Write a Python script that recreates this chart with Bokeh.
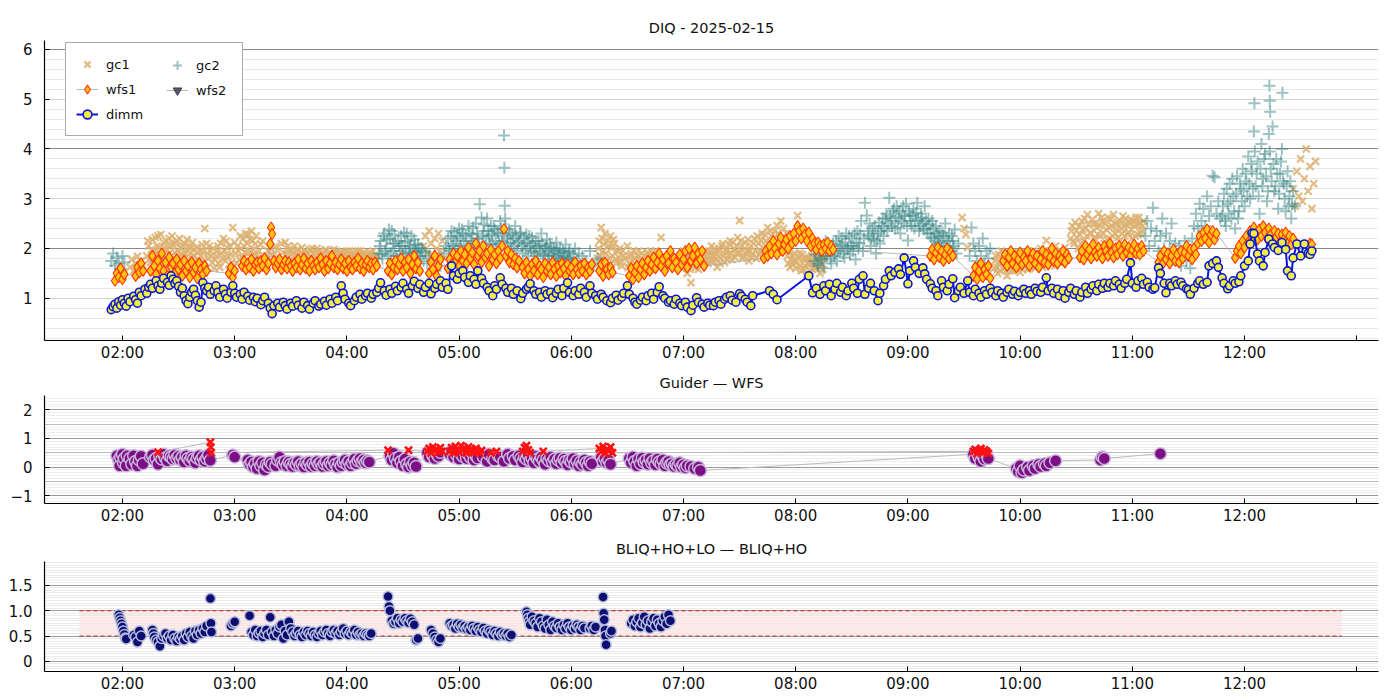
from bokeh.plotting import figure
from bokeh.models import FixedTicker, Grid, Legend, LegendItem, Range1d
from bokeh.layouts import column
from bokeh.embed import file_html
from bokeh.resources import INLINE

# ---------------- data (time in minutes after 00:00, value) ----------------
dimm = [(114,.77),(115,.83),(116,.88),(117,.80),(118,.93),(119,.86),(120,.97),(121,.90),(122,.84),(123,1.00),(124,.93),(126,1.04),(127,.97),(128,.90),(129,1.12),(130,1.05),(132,1.18),(133,1.10),(134,1.22),(135,1.28),(136,1.20),(138,1.35),(139,1.25),(140,1.18),(141,1.30),(142,1.40),(144,1.32),(145,1.26),(146,1.45),(147,1.38),(148,1.30),(149,1.35),(150,1.24),(151,1.12),(152,1.20),(153,1.05),(154,.95),(155,.89),(156,1.02),(157,1.12),(158,1.18),(159,1.06),(160,.95),(161,.82),(162,.92),(163,1.31),(164,1.20),
(165,1.15),(166,1.22),(167,1.08),(169,1.15),(170,1.25),(171,1.12),(172,1.02),(174,1.18),(175,1.08),(176,1.00),(178,1.12),(179,1.25),(180,1.10),(181,1.02),(183,1.08),(184,.98),(185,1.12),(187,1.04),(188,.96),(190,1.02),(191,.93),(192,1.00),(194,.87),(195,.95),(196,1.02),(198,.90),(199,.80),(200,.69),(201,.85),(203,.90),(204,.82),(206,.92),(207,.85),(208,.78),(210,.90),(211,.84),(213,.95),(214,.86),(216,.80),(217,.92),(219,.85),(220,.78),(222,.90),(223,.95),(225,.84),(226,.88),(228,.94),(229,.86),(231,.98),(232,.90),(234,1.02),(235,.95),(237,1.25),(238,1.10),(239,.98),(241,.90),(242,.85),(244,.95),(245,1.02),(247,1.08),(248,.98),(250,1.05),(251,1.10),(253,1.00),(254,1.08),(256,1.12),(257,1.20),(258,1.31),(260,1.15),(261,1.06),(263,1.18),(264,1.10),(266,1.24),(267,1.15),(269,1.22),(270,1.30),(272,1.18),(273,1.10),(275,1.25),(276,1.34),(278,1.20),(279,1.28),(281,1.12),(282,1.22),(284,1.30),(285,1.09),(287,1.20),(288,1.28),(290,1.35),(291,1.22),(293,1.30),(294,1.18),(296,1.65),(297,1.45),(299,1.38),(300,1.50),
(302,1.55),(303,1.42),(305,1.32),(306,1.45),(308,1.38),(309,1.28),(310,1.55),(312,1.40),(313,1.30),(315,1.22),(316,1.15),(318,1.05),(319,1.25),(320,1.18),(322,1.41),(323,1.28),(325,1.20),(326,1.12),(328,1.20),(329,1.08),(331,1.15),(333,.99),(334,1.10),(336,1.18),(337,1.22),(338,1.29),(340,1.15),(341,1.08),(343,1.12),(344,1.02),(346,1.15),(347,1.08),(349,1.12),(350,1.01),(352,1.10),(353,1.18),(355,1.05),(356,1.20),(358,1.31),(359,1.12),(361,1.05),(362,1.15),(364,1.08),(365,1.20),(367,1.12),(368,1.02),(370,1.25),(371,1.10),(373,1.05),(374,.98),(376,1.08),(377,1.02),(379,.95),(381,.91),(382,1.00),(384,1.06),(385,.96),(387,1.02),(388,1.10),(390,1.25),(391,1.08),(393,1.00),(394,.92),(395,.88),(397,.96),(398,1.02),(400,.95),(401,1.05),(403,1.10),(404,.98),(406,1.12),(407,1.23),(409,1.05),(410,1.00),(412,.92),(413,.95),(415,.88),(416,.98),(418,.90),(419,.85),(421,.92),(422,.82),(424,.75),(425,.86),(427,1.01),(428,.92),(430,.88),(431,.82),(433,.90),(434,.86),(436,.85),(437,.92),(439,.95),(440,.88),(442,.98),(443,1.02),(445,1.05),(446,.96),(448,.92),(450,1.09),(451,1.04),(453,.98),(454,.92),(456,.85),(457,1.05),
(466,1.15),(468,1.08),(470,.97),(487,1.45),(489,1.11),(491,1.20),(493,1.08),(495,1.25),(496,1.15),(498,1.28),(499,1.05),(501,1.18),(502,1.30),(504,1.12),(505,1.22),(507,1.05),(508,1.15),(510,1.30),(511,1.20),(513,1.10),(514,1.38),(516,1.45),(517,1.08),(519,1.20),(520,1.30),(522,1.15),(524,.95),(525,1.10),(527,1.25),(528,1.38),(530,1.55),(531,1.45),(533,1.52),(535,1.59),(536,1.48),(538,1.81),(540,1.29),(541,1.55),(543,1.75),(544,1.62),(546,1.50),(548,1.61),(549,1.49),(550,1.38),(552,1.29),(553,1.20),(555,1.15),(556,1.05),(558,1.35),(559,1.22),(561,1.15),(562,1.28),(564,1.39),(565,1.01),(567,1.15),(568,1.22),(570,1.10),(572,1.35),(573,1.12),(575,1.05),(576,1.18),(578,1.10),(579,1.02),(581,1.15),(582,1.08),(584,1.20),(585,1.12),(587,1.05),(588,1.15),(590,1.10),(591,1.02),(593,1.12),(594,1.18),(596,1.08),(597,1.14),(599,1.05),(600,1.12),(602,1.18),(603,1.10),(605,1.15),(606,1.08),(608,1.20),(609,1.14),(611,1.12),(612,1.22),(614,1.41),(615,1.15),(617,1.20),(618,1.10),(620,1.18),(621,1.05),(623,1.15),(624,1.00),(626,1.12),(627,1.20),(629,1.08),(630,1.15),(632,1.02),(633,1.12),(635,1.22),(636,1.10),(638,1.18),(639,1.25),(641,1.15),(642,1.28),(644,1.20),(645,1.30),(647,1.22),(648,1.30),(650,1.25),(651,1.35),(653,1.28),(654,1.20),(656,1.30),(657,1.38),(659,1.71),(660,1.30),(662,1.22),(663,1.35),(665,1.40),(666,1.28),(668,1.32),(669,1.22),(671,1.18),(672,1.21),(674,1.61),(675,1.50),(677,1.30),(678,1.11),(680,1.30),(681,1.25),(683,1.35),(684,1.28),(686,1.32),(687,1.25),(689,1.19),(690,1.17),(691,1.08),(693,1.20),(695,1.30),(696,1.35),(698,1.28),(700,1.32),(701,1.65),(703,1.70),(705,1.75),(706,1.62),(708,1.41),(709,1.30),(711,1.19),(712,1.25),(714,1.35),(715,1.30),(717,1.33),(718,1.45),(720,1.65),(722,1.75),(723,2.09),(724,2.31),(725,2.30),(727,1.89),(728,1.75),(730,1.65),(731,1.92),(733,2.19),(735,2.09),(736,2.02),(738,1.96),(740,2.12),(742,1.98),(743,1.55),(745,1.45),(746,1.81),(748,2.09),(750,1.85),(752,2.09),(754,1.90),(755,1.88),(756,1.95)]

gc1 = [(124,1.62),(125,1.78),(126,1.55),(127,1.70),(128,1.84),(129,1.60),(130,1.75),(131,1.66),
(133,1.85),(134,2.05),(135,1.72),(136,2.18),(137,1.95),(138,1.80),(139,2.25),(140,2.02),(141,1.88),(142,2.12),(143,1.76),(144,1.98),(145,2.20),(146,1.84),(147,2.08),(148,1.92),(149,2.15),(150,1.78),(151,2.02),(152,1.90),(153,2.10),(154,1.70),(155,1.95),(156,2.05),(157,1.82),(158,1.98),(159,1.75),(160,1.92),(161,1.68),(162,1.85),(163,1.95),(164,2.40),(165,2.10),(166,1.80),(167,1.95),(168,1.72),(169,1.60),(170,1.85),(171,2.05),(172,1.62),(173,1.90),(174,2.20),(175,1.75),(176,2.02),(177,1.58),(178,1.88),(179,2.42),(180,2.12),(181,1.70),(182,1.95),(183,2.25),(184,1.82),(185,2.05),(186,2.30),(187,1.90),(188,2.18),(189,2.35),(190,1.98),(191,2.10),(192,1.85),(194,2.08),(196,1.78),(198,1.95),(200,1.88),(202,2.05),(204,1.72),(206,1.92),(207,2.12),(208,1.80),(209,1.98),(210,1.70),(211,1.90),(212,2.05),(213,1.75),(214,1.95),(215,1.82),(216,2.02),(217,1.68),(218,1.88),(219,1.78),(220,1.98),(221,1.72),(222,1.90),(223,1.80),(224,2.00),(225,1.70),(226,1.85),(227,1.92),(228,1.75),(229,1.95),(230,1.68),(231,1.86),(232,1.78),(233,1.98),(234,1.72),(235,1.88),(236,1.80),(237,1.92),(238,1.70),(239,1.85),(240,1.95),(241,1.72),(242,1.88),(243,1.65),(244,1.90),(245,1.78),(246,1.95),(247,1.70),(248,1.85),(249,1.92),(250,1.75),(251,1.88),(252,1.68),(253,1.82),(254,1.95),(255,1.72),(256,1.85),
(281,2.05),(282,2.25),(283,1.90),(284,2.35),(285,2.10),(286,1.85),(287,2.20),(288,2.00),(289,2.30),(290,1.95),(291,2.15),(292,1.80),
(374,1.80),(375,2.15),(376,2.42),(377,1.95),(378,2.30),(379,1.75),(380,2.05),(381,2.25),(382,1.85),(383,2.10),(384,1.70),(385,1.95),(386,2.00),(387,1.65),(388,1.85),(390,2.05),(391,1.70),(392,1.90),(393,1.55),(394,1.80),(395,1.65),(396,1.95),(397,1.75),(398,1.60),(399,1.85),(400,1.70),(401,1.92),(402,1.58),(403,1.80),(404,1.68),(405,1.95),(406,1.75),(408,2.22),(417,1.70),(418,1.85),(419,1.60),(420,1.95),(421,1.75),(422,1.50),(423,1.80),(424,1.31),(425,1.65),(426,1.90),(427,1.72),(428,1.58),(429,1.85),(430,1.68),(431,1.80),(432,1.95),(433,1.70),(434,1.85),(435,2.05),(436,1.75),(437,1.90),(438,1.62),(439,2.00),(440,1.80),(441,2.10),(442,1.72),(443,1.95),(444,1.85),(445,2.15),(446,1.78),(447,2.00),(448,1.90),(449,2.22),(450,2.56),(451,2.05),(452,1.85),(453,2.12),(454,1.95),(455,1.75),(456,2.05),(457,1.90),(458,2.20),(459,1.80),(460,2.10),(461,1.95),(462,2.30),(463,1.85),(464,2.15),(465,2.42),(466,2.00),(467,2.25),(468,1.90),(469,2.35),(470,2.46),(471,2.10),(472,2.55),(473,2.20),(474,1.95),(475,2.30),(476,1.70),(477,1.62),(478,1.85),(479,1.75),(480,1.60),(481,2.66),(482,1.90),(483,1.55),(484,1.78),(485,1.65),(486,1.48),(487,1.82),(488,1.70),(489,1.58),(490,1.85),(491,1.62),(492,1.75),(493,1.50),(494,1.68),(495,1.80),
(569,2.62),(570,2.40),(571,2.28),(572,2.02),
(586,1.60),(587,1.85),(588,1.50),(589,1.72),(590,1.95),(591,1.58),(592,1.80),(593,1.45),(594,1.70),(595,1.88),(596,1.55),(597,1.75),(598,1.62),(599,1.90),(600,1.52),(601,1.78),(602,1.65),(603,1.92),(604,1.58),(605,1.82),(606,1.70),(607,1.95),(608,1.60),(609,1.85),(610,1.72),(611,2.00),(612,1.62),(613,1.88),(614,2.16),(615,1.75),(616,1.95),(617,1.68),(618,1.85),(619,2.05),(620,1.78),(621,1.92),(622,1.70),(623,1.88),(624,2.02),(625,1.80),
(627,2.20),(628,2.45),(629,2.10),(630,2.35),(631,2.00),(632,2.28),(633,2.55),(634,2.15),(635,2.40),(636,2.68),(637,2.05),(638,2.30),(639,2.50),(640,2.18),(641,2.42),(642,2.70),(643,2.25),(644,2.55),(645,2.10),(646,2.38),(647,2.62),(648,2.20),(649,2.45),(650,2.68),(651,2.30),(652,2.52),(653,2.15),(654,2.40),(655,2.65),(656,2.25),(657,2.48),(658,2.32),(659,2.58),(660,2.20),(661,2.45),(662,2.62),(663,2.28),(664,2.50),(665,2.35),(666,2.55),
(746,3.20),(747,2.85),(748,3.55),(749,3.05),(750,3.80),(751,2.95),(752,3.40),(753,4.00),(754,3.15),(755,3.65),(756,2.80),(757,3.30),(758,3.75),
(133.5,2.15),(134.5,1.78),(135.5,1.98),(136.5,1.85),(137.5,2.22),(138.5,2.05),(139.5,1.90),(140.5,2.28),(141.5,1.80),(142.5,2.00),(143.5,2.15),(144.5,1.88),(145.5,2.05),(146.5,2.25),(147.5,1.80),(148.5,2.10),(149.5,1.95),(150.5,2.20),(151.5,1.85),(152.5,2.05),(153.5,1.92),(154.5,2.18),(155.5,1.80),(156.5,2.00),(157.5,2.12),(158.5,1.85),(159.5,2.02),(160.5,1.78),(161.5,1.95),(162.5,2.08),(163.5,1.75),(165.5,1.90),(166.5,2.05),(167.5,1.85),(168.5,2.00),(169.5,1.78),(170.5,1.95),(171.5,1.70),(172.5,2.10),(173.5,1.80),(174.5,1.95),(175.5,2.15),(176.5,1.85),(177.5,2.05),(178.5,1.72),(180.5,1.90),(181.5,2.05),(182.5,1.78),(183.5,2.00),(184.5,2.20),(185.5,1.92),(186.5,2.10),(187.5,2.28),(188.5,1.95),(189.5,2.15),(190.5,1.88),(191.5,2.25),(193,1.95),(195,2.15),(197,1.85),(199,2.00),(201,1.80),(203,1.95),(205,2.10),(207.5,1.88),(208.5,2.05),(209.5,1.75),(210.5,1.95),(211.5,1.82),(212.5,1.70),(213.5,1.98),(214.5,1.78),(215.5,1.92),(216.5,1.75),(217.5,1.95),(218.5,1.70),(219.5,1.90),(220.5,1.82),(221.5,2.00),(222.5,1.75),(223.5,1.92),(224.5,1.78),(225.5,1.95),(226.5,1.72),(227.5,1.85),(228.5,1.98),(229.5,1.78),(230.5,1.92),(231.5,1.70),(232.5,1.88),(233.5,1.80),(234.5,1.95),(235.5,1.75),(236.5,1.90),(237.5,1.78),(238.5,1.92),(239.5,1.68),(240.5,1.82),(241.5,1.95),(242.5,1.75),(243.5,1.85),(244.5,1.70),(245.5,1.92),(246.5,1.80),(247.5,1.95),(248.5,1.72),(249.5,1.88),(250.5,1.65),(251.5,1.80),(252.5,1.92),(253.5,1.70),(254.5,1.85),(255.5,1.78),
(374.5,2.00),(375.5,1.85),(376.5,2.20),(377.5,2.08),(378.5,1.90),(379.5,2.15),(380.5,1.80),(381.5,2.00),(382.5,2.18),(383.5,1.78),(384.5,1.95),(385.5,1.82),(386.5,1.72),(387.5,1.95),(389,1.80),(390.5,1.62),(391.5,1.85),(392.5,1.75),(393.5,1.95),(394.5,1.62),(395.5,1.85),(396.5,1.70),(397.5,1.90),(398.5,1.78),(399.5,1.65),(400.5,1.88),(401.5,1.72),(402.5,1.95),(403.5,1.62),(404.5,1.85),(405.5,1.70),(417.5,1.80),(418.5,1.62),(419.5,1.90),(420.5,1.68),(421.5,1.85),(422.5,1.72),(423.5,1.58),(424.5,1.88),(425.5,1.75),(426.5,1.62),(427.5,1.95),(428.5,1.80),(429.5,1.68),(430.5,1.90),(431.5,1.72),(432.5,1.85),(433.5,1.95),(434.5,1.75),(435.5,1.88),(436.5,2.00),(437.5,1.78),(438.5,1.92),(439.5,1.70),(440.5,2.05),(441.5,1.85),(442.5,1.98),(443.5,1.78),(444.5,2.08),(445.5,1.90),(446.5,2.12),(447.5,1.82),(448.5,2.05),(449.5,1.92),(450.5,2.15),(451.5,1.80),(452.5,2.00),(453.5,1.88),(454.5,2.18),(455.5,1.95),(456.5,1.82),(457.5,2.10),(458.5,1.95),(459.5,2.25),(460.5,1.88),(461.5,2.15),(462.5,2.02),(463.5,2.28),(464.5,1.95),(465.5,2.10),(466.5,2.35),(467.5,1.98),(468.5,2.20),(469.5,2.05),(470.5,2.30),(471.5,1.92),(472.5,2.15),(473.5,2.40),(474.5,2.05),(475.5,1.85),(476.5,1.95),(477.5,1.78),(478.5,1.68),(479.5,1.90),(480.5,1.72),(481.5,1.82),(482.5,1.65),(483.5,1.88),(484.5,1.58),(485.5,1.80),(486.5,1.70),(487.5,1.55),(488.5,1.85),(489.5,1.72),(490.5,1.60),(491.5,1.80),(492.5,1.65),(493.5,1.78),(494.5,1.58),
(586.5,1.75),(587.5,1.62),(588.5,1.88),(589.5,1.55),(590.5,1.78),(591.5,1.90),(592.5,1.65),(593.5,1.82),(594.5,1.55),(595.5,1.72),(596.5,1.92),(597.5,1.60),(598.5,1.80),(599.5,1.68),(600.5,1.88),(601.5,1.58),(602.5,1.82),(603.5,1.70),(604.5,1.95),(605.5,1.62),(606.5,1.85),(607.5,1.72),(608.5,1.90),(609.5,1.65),(610.5,1.82),(611.5,1.75),(612.5,1.95),(613.5,1.68),(614.5,1.85),(615.5,1.92),(616.5,1.72),(617.5,1.88),(618.5,1.65),(619.5,1.80),(620.5,1.95),(621.5,1.72),(622.5,1.88),(623.5,1.75),(624.5,1.90),(627.5,2.35),(628.5,2.15),(629.5,2.52),(630.5,2.22),(631.5,2.45),(632.5,2.10),(633.5,2.38),(634.5,2.60),(635.5,2.25),(636.5,2.48),(637.5,2.32),(638.5,2.58),(639.5,2.20),(640.5,2.50),(641.5,2.28),(642.5,2.45),(643.5,2.62),(644.5,2.30),(645.5,2.50),(646.5,2.18),(647.5,2.42),(648.5,2.58),(649.5,2.25),(650.5,2.50),(651.5,2.38),(652.5,2.22),(653.5,2.55),(654.5,2.30),(655.5,2.45),(656.5,2.60),(657.5,2.28),(658.5,2.50),(659.5,2.38),(660.5,2.55),(661.5,2.25),(662.5,2.48),(663.5,2.62),(664.5,2.30),(665.5,2.45)]

gc2 = [(114,1.75),(115,1.90),(116,1.65),(117,1.82),(118,1.70),(119,1.58),(120,1.85),(121,1.72),
(257,1.90),(258,2.15),(259,1.80),(260,2.30),(261,2.00),(262,1.85),(263,2.20),(264,2.35),(265,1.95),(266,2.10),(267,1.78),(268,2.05),(269,2.25),(270,1.88),(271,2.12),(272,2.30),(273,1.92),(274,2.05),(275,1.80),(276,2.18),(277,1.95),(278,2.08),(279,1.85),(280,2.00),(281,1.75),(282,1.92),(283,1.70),(284,1.85),(286,1.72),(288,1.80),(290,1.65),(292,1.90),(293,2.05),(294,2.20),(295,1.95),(296,2.35),(297,2.10),(298,1.98),(299,2.25),(300,2.40),(301,2.05),(302,2.30),(303,1.92),(304,2.15),(305,2.45),(306,2.00),(307,2.28),(308,2.10),(309,2.50),(310,2.20),(311,2.89),(312,2.62),(313,2.35),(314,2.05),(315,2.60),(316,2.25),(317,2.45),(318,2.10),(319,2.38),(320,2.00),(321,2.30),(322,2.55),(323,2.15),(324,4.27),(324.2,3.62),(324.4,2.86),(324.6,2.60),(325,2.40),(326,2.10),(327,2.32),(328,2.00),(329,2.20),(330,2.45),(331,1.95),(332,2.15),(333,2.32),(334,1.90),(335,2.10),(336,2.28),(337,1.85),(338,2.05),(339,2.22),(340,1.92),(341,2.15),(342,1.80),(343,2.05),(344,2.30),(345,1.88),(346,2.00),(347,2.18),(348,1.85),(349,2.02),(350,1.78),(351,1.95),(352,2.12),(353,1.82),(354,2.00),(355,1.75),(356,1.92),(357,2.08),(358,1.80),(359,1.95),(360,1.72),(361,1.88),(362,2.00),(363,1.75),(364,1.90),(365,1.68),(366,1.85),(368,1.72),(370,1.95),(372,1.65),(374,1.80),(376,1.70),
(490,1.75),(491,1.95),(492,1.65),(493,2.05),(494,1.80),(495,1.60),(496,2.15),(497,1.85),(498,2.00),(499,1.70),(500,2.10),(501,1.90),(502,1.75),(503,2.25),(504,1.95),(505,2.08),(506,1.82),(507,2.30),(508,2.00),(509,1.88),(510,2.20),(511,2.05),(512,1.78),(513,2.35),(514,2.10),(515,2.55),(516,1.95),(517,2.92),(518,2.66),(519,2.25),(520,2.05),(521,2.40),(522,2.18),(523,1.90),(524,2.30),(525,2.10),(526,2.45),(527,2.25),(528,2.60),(529,2.35),(530,3.02),(531,2.55),(532,2.75),(533,2.40),(534,2.85),(535,2.60),(536,2.30),(537,2.70),(538,2.50),(539,2.90),(540,2.16),(541,2.65),(542,2.45),(543,2.80),(544,2.55),(545,2.92),(546,2.35),(547,2.70),(548,2.50),(549,2.85),(550,2.40),(551,2.60),(552,2.30),(553,2.55),(554,2.20),(555,2.45),(556,2.10),(557,2.35),(558,2.05),(559,2.25),(560,2.50),(561,2.00),(562,2.30),(563,1.95),(564,2.15),(565,2.38),(566,1.90),(567,2.10),
(573,1.85),(574,2.42),(575,2.10),(576,1.95),(577,1.75),(578,2.05),(579,1.85),(580,2.20),(581,1.70),(582,1.95),(583,1.80),(584,2.00),
(667,2.25),(668,2.55),(669,2.05),(670,2.40),(671,2.82),(672,2.15),(673,2.35),(674,1.95),(675,2.25),(676,2.60),(677,2.00),(678,2.30),(679,1.85),(680,2.15),(681,2.50),(682,1.95),(683,2.10),(684,1.80),(685,2.05),(686,1.65),(687,1.90),(688,2.15),(689,1.75),(690,2.00),(691,1.60),(692,2.20),(693,2.45),(694,2.70),(695,2.40),(696,2.90),(697,2.55),(698,2.80),(699,2.45),(700,3.05),(701,2.65),(702,2.85),(703,3.46),(704,3.43),(705,2.70),(706,2.95),(707,2.60),
(708,2.65),(709,3.10),(710,2.45),(711,2.90),(712,3.30),(713,2.60),(714,3.05),(715,2.40),(716,3.45),(717,2.75),(718,3.20),(719,3.60),(720,2.85),(721,3.35),(722,3.85),(723,3.00),(724,3.55),(725,4.35),(725.3,4.92),(726,3.25),(727,3.75),(728,2.70),(729,4.10),(730,3.40),(731,3.90),(732,2.95),(733,4.30),(733.3,5.27),(733.5,4.97),(733.7,4.75),(734,3.60),(735,4.45),(736,3.15),(737,3.80),(738,2.80),(739,3.50),(740,4.00),(740.3,5.13),(741,3.30),(742,2.75),(743,3.55),(744,3.05),(745,2.60),(746,3.15),(747,2.85),
(257.5,2.05),(258.5,1.88),(259.5,2.25),(260.5,1.95),(261.5,2.18),(262.5,2.38),(263.5,1.90),(264.5,2.10),(265.5,2.28),(266.5,1.85),(267.5,2.15),(268.5,1.95),(269.5,2.05),(270.5,2.32),(271.5,1.90),(272.5,2.15),(273.5,2.00),(274.5,2.25),(275.5,1.92),(276.5,2.08),(277.5,1.85),(278.5,2.00),(279.5,1.80),(280.5,1.95),(294.5,2.00),(295.5,2.25),(296.5,2.05),(297.5,2.32),(298.5,2.15),(299.5,1.95),(300.5,2.20),(301.5,2.38),(302.5,2.08),(303.5,2.25),(304.5,2.00),(305.5,2.30),(306.5,2.15),(307.5,2.42),(308.5,2.05),(309.5,2.30),(310.5,2.12),(312.5,2.25),(313.5,2.48),(314.5,2.20),(315.5,2.35),(316.5,2.08),(317.5,2.28),(318.5,2.45),(319.5,2.15),(320.5,2.32),(321.5,2.10),(322.5,2.40),(323.5,2.25),(325.5,2.20),(326.5,2.38),(327.5,2.12),(328.5,2.28),(329.5,2.05),(330.5,2.25),(331.5,2.10),(332.5,2.30),(333.5,2.05),(334.5,2.20),(335.5,1.98),(336.5,2.12),(337.5,2.25),(338.5,1.95),(339.5,2.10),(340.5,2.02),(341.5,1.90),(342.5,2.15),(343.5,1.95),(344.5,2.08),(345.5,1.85),(346.5,2.05),(347.5,1.92),(348.5,2.10),(349.5,1.88),(350.5,2.00),(351.5,1.85),(352.5,1.98),(353.5,1.90),(354.5,1.80),(355.5,1.95),(356.5,1.85),(357.5,1.78),(358.5,1.92),(359.5,1.82),
(490.5,1.88),(491.5,1.70),(492.5,1.92),(493.5,1.78),(494.5,2.00),(495.5,1.85),(496.5,1.95),(497.5,2.10),(498.5,1.80),(499.5,1.98),(500.5,1.85),(501.5,2.15),(502.5,1.95),(503.5,2.05),(504.5,2.20),(505.5,1.90),(506.5,2.12),(507.5,2.00),(508.5,2.25),(509.5,2.05),(510.5,1.95),(511.5,2.30),(512.5,2.12),(513.5,2.00),(514.5,2.28),(516.5,2.20),(518.5,2.35),(519.5,2.50),(520.5,2.20),(521.5,2.30),(522.5,2.45),(523.5,2.15),(524.5,2.52),(525.5,2.35),(526.5,2.60),(527.5,2.40),(528.5,2.70),(529.5,2.50),(530.5,2.65),(531.5,2.45),(532.5,2.80),(533.5,2.62),(534.5,2.42),(535.5,2.75),(536.5,2.55),(537.5,2.85),(538.5,2.65),(539.5,2.45),(540.5,2.75),(541.5,2.55),(542.5,2.68),(543.5,2.40),(544.5,2.72),(545.5,2.58),(546.5,2.45),(547.5,2.62),(548.5,2.38),(549.5,2.55),(550.5,2.30),(551.5,2.48),(552.5,2.22),(553.5,2.40),(554.5,2.15),(555.5,2.30),(556.5,2.25),(557.5,2.12),(558.5,2.32),(559.5,2.05),(560.5,2.20),(561.5,2.15),(562.5,2.02),(563.5,2.25),(564.5,2.05),
(708.5,2.85),(709.5,2.55),(710.5,3.20),(711.5,2.70),(712.5,2.95),(713.5,3.40),(714.5,2.75),(715.5,3.10),(716.5,2.60),(717.5,3.30),(718.5,2.95),(719.5,3.15),(720.5,3.50),(721.5,3.05),(722.5,3.30),(723.5,3.70),(724.5,3.20),(725.5,3.95),(726.5,3.50),(727.5,3.05),(728.5,3.60),(729.5,3.25),(730.5,3.80),(731.5,3.45),(732.5,3.15),(733.5,3.95),(734.5,3.35),(735.5,3.70),(736.5,3.25),(737.5,3.50),(738.5,3.10),(739.5,3.75),(740.5,3.35),(741.5,3.00),(742.5,3.25),(743.5,2.85),(744.5,3.35),(745.5,2.90)]

wfs1 = [(116,1.35),(117,1.50),(118,1.42),(119,1.60),(120,1.38),(121,1.48),
(127,1.45),(128,1.62),(129,1.52),(130,1.70),(131,1.55),
(135,1.55),(136,1.85),(137,1.65),(138,1.48),(139,1.75),(140,1.60),(141,1.90),(142,1.55),(143,1.72),(144,1.45),(145,1.82),(146,1.62),(147,1.70),(148,1.50),(149,1.78),(150,1.58),(151,1.68),(152,1.45),(153,1.75),(154,1.55),(155,1.65),(156,1.42),(157,1.72),(158,1.52),(159,1.62),(160,1.40),(161,1.70),(162,1.58),(163,1.48),(164,1.65),(165,1.55),
(177,1.50),(178,1.62),(179,1.42),(180,1.55),
(184,1.65),(185,1.75),(186,1.58),(187,1.70),(188,1.62),(189,1.78),(190,1.55),(191,1.68),(192,1.72),(193,1.60),(194,1.75),(195,1.65),(196,1.80),(197,1.58),(198,1.70),(199,2.09),(199.5,2.42),(200,2.29),(201,1.75),(202,1.62),(203,1.70),(204,1.78),(205,1.58),(206,1.68),(207,1.75),(208,1.60),(209,1.72),(210,1.65),(211,1.55),(212,1.70),(213,1.62),(214,1.78),(215,1.58),(216,1.68),(217,1.80),(218,1.60),(219,1.70),(220,1.55),(221,1.75),(222,1.65),(223,1.58),(224,1.72),(225,1.62),(226,1.80),(227,1.68),(228,1.55),(229,1.75),(230,1.60),(231,1.70),(232,1.85),(233,1.62),(234,1.72),(235,1.58),(236,1.68),(237,1.78),(238,1.60),(239,1.70),(240,1.55),(241,1.75),(242,1.62),(243,1.58),(244,1.72),(245,1.65),(246,1.80),(247,1.60),(248,1.70),(249,1.55),(250,1.68),(251,1.75),(252,1.62),(253,1.70),(254,1.58),(255,1.72),(256,1.65),
(262,1.55),(263,1.70),(264,1.48),(265,1.62),(266,1.75),(267,1.58),(268,1.68),(269,1.80),(270,1.55),(271,1.72),(272,1.62),(273,1.78),(274,1.50),(275,1.68),(276,1.85),(277,1.60),(278,1.72),(279,1.55),
(284,1.50),(285,1.72),(286,1.58),(287,1.85),(288,1.45),(289,1.65),(290,1.78),
(294,1.60),(295,1.78),(296,1.68),(297,1.90),(298,1.72),(299,1.85),(300,1.65),(301,1.95),(302,1.75),(303,1.88),(304,1.70),(305,2.02),(306,1.80),(307,1.92),(308,1.68),(309,2.10),(310,1.85),(311,1.95),(312,1.72),(313,2.05),(314,1.82),(315,1.90),(316,1.65),(317,1.98),(318,1.78),(319,1.88),(320,1.70),(321,1.95),(322,1.80),(323,2.05),(324,2.39),(325,1.85),(326,1.95),(327,1.72),(328,1.88),(329,1.68),(330,1.80),(331,1.62),(332,1.75),
(334,1.62),(335,1.50),(336,1.72),(337,1.58),(338,1.45),(339,1.68),(340,1.55),(341,1.75),(342,1.48),(343,1.65),(344,1.58),(345,1.42),(346,1.70),(347,1.55),(348,1.62),(349,1.48),(350,1.72),(351,1.58),(352,1.45),(353,1.65),(354,1.52),(355,1.70),(356,1.60),(357,1.45),(358,1.68),(359,1.55),(360,1.62),(361,1.48),(362,1.72),(363,1.58),(364,1.50),(365,1.65),(366,1.55),(367,1.70),(368,1.48),(369,1.62),(370,1.55),(371,1.68),
(375,1.55),(376,1.68),(377,1.45),(378,1.72),(379,1.58),(380,1.48),(381,1.62),(382,1.52),
(391,1.45),(392,1.60),(393,1.38),(394,1.52),(395,1.65),(396,1.42),(397,1.58),(398,1.70),(399,1.48),(400,1.62),(401,1.75),(402,1.55),(403,1.68),(404,1.82),(405,1.60),(406,1.72),(407,1.90),(408,1.65),(409,1.78),(410,1.55),(411,1.85),(412,1.70),(413,1.95),(414,1.62),(415,1.80),(416,1.72),(417,1.58),(418,1.88),(419,1.68),(420,1.78),(421,1.95),(422,1.62),(423,2.00),(424,1.75),(425,1.85),(426,2.02),(427,1.70),(428,1.90),(429,1.78),(430,1.95),(431,1.65),
(463,1.80),(464,1.95),(465,1.85),(466,2.05),(467,1.90),(468,2.15),(469,2.00),(470,1.88),(471,2.10),(472,2.22),(473,1.95),(474,2.08),(475,2.18),(476,2.00),(477,2.25),(478,2.10),(479,2.30),(480,2.15),(481,2.45),(482,2.35),(483,2.20),(484,2.40),(485,2.28),(486,2.15),(487,2.32),(488,2.05),(489,2.20),(490,2.10),(491,1.98),(492,2.12),(493,2.05),(494,1.95),(495,2.08),(496,2.00),(497,2.12),(498,1.95),(499,2.05),(500,1.98),
(552,1.85),(553,1.98),(554,1.78),(555,1.92),(556,2.02),(557,1.82),(558,1.95),(559,1.75),(560,1.88),(561,2.00),(562,1.80),(563,1.92),(564,1.85),
(575,1.45),(576,1.62),(577,1.38),(578,1.55),(579,1.70),(580,1.42),(581,1.58),(582,1.48),(583,1.65),(584,1.40),
(591,1.75),(592,1.88),(593,1.65),(594,1.82),(595,1.95),(596,1.70),(597,1.85),(598,1.62),(599,1.78),(600,1.92),(601,1.68),(602,1.82),(603,1.75),(604,1.95),(605,1.65),(606,1.80),(607,1.90),(608,1.70),(609,1.85),(610,1.62),(611,1.78),(612,1.95),(613,1.72),(614,1.88),(615,1.68),(616,1.82),(617,2.00),(618,1.75),(619,1.90),(620,1.70),(621,1.85),(622,1.78),(623,1.95),(624,1.72),(625,1.88),(626,1.80),
(632,1.82),(633,1.95),(634,1.78),(635,2.05),(636,1.88),(637,1.98),(638,1.80),(639,2.08),(640,1.92),(641,1.85),(642,2.02),(643,1.90),(644,1.80),(645,2.05),(646,1.95),(647,1.85),(648,2.10),(649,1.92),(650,1.82),(651,2.00),(652,1.88),(653,2.05),(654,1.95),(655,1.85),(656,2.08),(657,1.92),(658,2.02),(659,1.85),(660,1.98),(661,2.08),(662,1.90),(663,2.00),(664,1.88),(665,2.05),(666,1.95),
(674,1.72),(675,1.85),(676,1.68),(677,1.95),(678,1.78),(679,1.90),(680,1.70),(681,1.85),(682,1.98),(683,1.75),(684,1.88),(685,1.72),(686,1.95),(687,1.80),(688,1.92),(689,2.05),(690,1.85),(691,1.98),(692,1.78),(693,2.00),(694,1.88),(695,2.10),(696,2.25),(697,2.15),(698,2.32),(699,2.20),(700,2.38),(701,2.12),(702,2.28),(703,2.35),(704,2.18),(705,2.30),
(715,1.81),(716,1.95),(717,2.05),(718,1.90),(719,2.15),(720,2.02),(721,2.25),(722,2.12),(723,2.35),(724,2.22),(725,2.42),(726,2.30),(727,2.18),(728,2.38),(729,2.25),(730,2.45),(731,2.32),(732,2.20),(733,2.40),(734,2.28),(735,2.15),(736,2.35),(737,2.22),(738,2.30),(739,2.12),(740,2.28),(741,2.18),(742,2.32),(743,2.10),(744,2.25),(745,2.08),(746,2.20),
(755,2.10),(756,2.08)]

wfs2 = [(760, float("nan"))]   # no valid wfs2 readings this night

guider = [(117,.40),(118,.25),(118.5,.05),(119,.35),(120,.45),(120.5,.15),(121,.30),(122,.05),(122.5,.40),
(124,.30),(125,.10),(126,.40),(127,.20),(128,.05),(129,.25),(130,.38),(131,.12),
(135,.35),(136,.42),(137,.25),(138,.30),(139,.10),(140,.38),(141,.28),(142,.45),(143,.32),(144,.22),(145,.40),(146,.35),(147,.28),(148,.42),(149,.30),(150,.38),(151,.25),(152,.35),(153,.18),(154,.40),(155,.30),(156,.22),(157,.35),(158,.28),(159,.15),(160,.32),(161,.40),(162,.25),(163,.35),(164,.20),(165,.30),(166,.42),(167,.24),
(179,.42),(180,.35),
(187,.25),(188,.10),(189,.18),(190,.00),(191,.12),(192,-.05),(193,.20),(194,.05),(195,.15),(196,-.10),(197,.08),(198,.02),(199,.18),(200,.10),(202,.05),(203,.25),(204,.35),(205,.15),(206,.08),(207,.20),(208,.05),(209,.18),(210,.10),(211,.02),(212,.15),(213,.08),(214,.20),(215,.05),(216,.12),(217,.00),(218,.15),(219,.08),(220,.18),(221,.02),(222,.12),(223,.05),(224,.20),(225,.10),(226,.15),(227,.02),(228,.12),(229,.20),(230,.05),(231,.15),(232,.08),(233,.22),(234,.10),(235,.00),(236,.15),(237,.05),(238,.18),(239,.25),(240,.10),(241,.20),(242,.05),(243,.15),(244,.28),(245,.12),(246,.22),(247,.30),(248,.18),(249,.25),(250,.15),(251,.22),(252,.18),
(263,.40),(264,.25),(265,.48),(266,.30),(267,.15),(268,.35),(269,.20),(270,.05),(271,.28),(272,.10),(273,.00),(274,.18),(275,.05),(276,.15),(277,.02),
(283,.50),(284,.35),(285,.55),(286,.40),(287,.30),(288,.48),(289,.38),(290,.52),
(295,.45),(296,.55),(297,.35),(298,.50),(299,.40),(300,.28),(301,.48),(302,.38),(303,.55),(304,.30),(305,.45),(306,.35),(307,.50),(308,.25),(309,.40),(310,.32),
(313,.35),(315,.20),(316,.45),(318,.30),(319,.25),(321,.40),(322,.35),(324,.20),(326,.45),(327,.30),(329,.38),(330,.25),(332,.40),(333,.30),(334,.18),(335,.35),(336,.28),(337,.42),(338,.22),(339,.32),(340,.15),(341,.38),(342,.28),(343,.20),(344,.35),(345,.25),(346,.10),(347,.30),(348,.22),(349,.35),(350,.18),(351,.28),(352,.12),(353,.25),(354,.32),(355,.15),(356,.28),(357,.20),(358,.08),(359,.25),(360,.18),(361,.30),(362,.12),(363,.22),(364,.05),(365,.18),(366,.10),(367,.25),(368,.15),(369,.05),(370,.20),(371,.12),
(376,.35),(377,.20),(378,.30),(379,.15),(380,.25),(381,.10),
(391,.30),(392,.15),(393,.35),(394,.20),(395,.05),(396,.28),(397,.12),(398,.32),(399,.18),(400,.25),(401,.10),(402,.30),(403,.15),(404,.22),(405,.08),(406,.28),(407,.18),(408,.12),(409,.25),(410,.05),(411,.15),(412,.20),(413,.08),(414,.12),(415,.02),(416,.10),(417,.05),(418,.15),(419,.00),(420,.08),(421,-.02),(422,.05),(424,.02),(426,-.05),(428,.00),(429,-.12),
(575,.45),(576,.30),(577,.50),(578,.35),(579,.20),(580,.40),(581,.28),(582,.45),(583,.30),
(598,-.05),(599,-.15),(600,.05),(601,-.20),(602,-.10),(604,.00),(605,-.12),(607,.05),(608,-.05),(610,.10),(611,.02),(613,.12),(614,.05),(616,.15),
(619,.22),(643,.25),(644,.35),(645,.30),(675,.47)]

wfs = [(139,.52),(167,.87),(167.2,.70),(167.4,.50),(262,.59),(273,.59),
(283,.55),(284,.65),(285,.50),(286,.70),(287,.58),(288,.62),(289,.52),(290,.68),(291,.55),
(295,.55),(296,.68),(297,.50),(298,.72),(299,.60),(300,.52),(301,.75),(302,.58),(303,.65),(304,.50),(305,.70),(306,.55),(307,.62),(308,.52),(309,.65),(310,.55),(311,.48),(312,.58),(317,.50),(320,.55),
(334,.55),(335,.68),(336,.75),(337,.60),(338,.50),(345,.55),
(375,.65),(376,.55),(377,.72),(378,.48),(379,.62),(380,.58),(381,.70),(382,.50),
(575,.55),(576,.62),(577,.48),(578,.58),(579,.65),(580,.50),(581,.60),(582,.55),(583,.48)]

bliq = [(118,.92),(118.5,.86),(119,.80),(119.5,.74),(120,.68),(120.5,.60),(121,.53),(121.5,.46),(122,.44),
(126,.52),(127,.48),(128,.38),(129,.60),(130,.50),
(136,.62),(136.5,.55),(137,.48),(138,.42),(139,.38),(140,.30),(141,.45),(142,.50),
(143,.55),(144,.45),(145,.50),(146,.42),(147,.52),(148,.45),(149,.40),(150,.48),(151,.44),(152,.50),(153,.42),(154,.55),(155,.48),(156,.58),(157,.50),(158,.45),(159,.60),(160,.52),(161,.62),(162,.55),(163,.65),(164,.58),(165,.70),
(167,1.24),(167.3,.75),(167.6,.58),(178,.70),(179,.75),(180,.78),(188,.90),
(189,.58),(190,.52),(191,.62),(192,.50),(193,.56),(194,.60),(195,.48),(196,.55),(197,.62),(198,.52),(199,.87),(200,.58),(201,.50),(202,.62),(203,.55),(204,.68),(205,.72),(206,.45),(207,.60),(208,.52),(209,.78),(210,.65),(211,.58),(212,.50),(213,.55),(214,.60),(215,.52),(216,.48),(217,.58),(218,.52),(219,.60),(220,.55),(221,.50),(222,.58),(223,.52),(224,.48),(225,.55),(226,.60),(227,.52),(228,.58),(229,.62),(230,.55),(231,.50),(232,.58),(233,.62),(234,.55),(235,.60),(236,.52),(237,.58),(238,.65),(239,.55),(240,.60),(241,.52),(242,.58),(243,.55),(244,.62),(245,.52),(246,.58),(247,.52),(248,.55),(249,.50),(250,.55),(251,.52),(252,.50),(253,.55),
(262,1.28),(262.5,1.08),(263,1.00),(264,.80),(265,.74),(266,.78),(267,.85),(268,.75),(269,.82),(270,.78),(271,.85),(272,.80),(273,.76),(274,.84),(275,.78),(276,.72),(277,.42),(278,.45),
(285,.62),(286,.55),(287,.48),(288,.42),(289,.38),(290,.45),
(295,.75),(296,.70),(297,.72),(298,.65),(299,.74),(300,.68),(301,.72),(302,.66),(303,.70),(304,.64),(305,.68),(306,.62),(307,.70),(308,.65),(309,.60),(310,.68),(311,.62),(312,.58),(313,.66),(314,.60),(315,.55),(316,.62),(317,.58),(318,.52),(319,.60),(320,.55),(321,.50),(322,.58),(323,.52),(324,.55),(325,.50),(326,.55),(327,.48),(328,.52),
(336,.98),(336.5,.92),(337,.85),(337.5,.78),(338,.72),(339,.88),(340,.80),(341,.75),(342,.68),(343,.85),(344,.78),(345,.70),(346,.65),(347,.82),(348,.72),(349,.62),(350,.78),(351,.70),(352,.66),(353,.75),(354,.68),(355,.62),(356,.72),(357,.65),(358,.75),(359,.68),(360,.62),(361,.70),(362,.65),(363,.72),(364,.68),(365,.62),(366,.70),(367,.66),
(370,.65),(371,.70),(372,.62),(373,.68),
(377,1.27),(377.3,.95),(377.6,.82),(378,.62),(378.3,.50),(378.6,.33),(381,.55),(381.5,.60),
(392,.75),(393,.82),(394,.70),(395,.78),(396,.85),(397,.68),(398,.76),(399,.88),(400,.72),(401,.80),(402,.65),(403,.78),(404,.85),(405,.70),(406,.82),(407,.75),(408,.68),(409,.80),(410,.88),(411,.74),(412,.92),(413,.80)]

band_x = [97, 772]          # minutes
band_lo = [0.5, 0.5]
band_hi = [1.0, 1.0]

hour_ticks = [2, 3, 4, 5, 6, 7, 8, 9, 10, 11, 12, 13]
hour_labels = ["02:00", "03:00", "04:00", "05:00", "06:00", "07:00",
               "08:00", "09:00", "10:00", "11:00", "12:00", ""]

FONT = "DejaVu Sans"
FIG_W = 1392


def split(pairs):
    return [t / 60.0 for t, _ in pairs], [v for _, v in pairs]


def make_fig(title, height, yr, yticks, yminor, top, bottom):
    p = figure(width=FIG_W, height=height, output_backend="svg", toolbar_location=None,
               x_range=Range1d(1.305, 13.194), y_range=Range1d(*yr),
               min_border_left=44, min_border_right=14,
               min_border_top=top, min_border_bottom=bottom)
    p.title.text = title
    p.title.align = "center"
    p.title.text_font = FONT
    p.title.text_font_size = "14.5px"
    p.title.text_font_style = "normal"
    p.title.text_color = "#111111"
    p.title.standoff = 9
    p.outline_line_color = None
    p.background_fill_color = "white"
    p.border_fill_color = "white"
    p.xgrid.visible = False
    p.xaxis.ticker = FixedTicker(ticks=hour_ticks)
    p.xaxis.major_label_overrides = {t: l for t, l in zip(hour_ticks, hour_labels)}
    yt = FixedTicker(ticks=yticks, minor_ticks=yminor)
    p.yaxis.ticker = yt
    p.ygrid.ticker = yt
    for ax in (p.xaxis, p.yaxis):
        ax.axis_line_color = "black"
        ax.axis_line_width = 1.2
        ax.major_tick_in = 5
        ax.major_tick_out = 0
        ax.major_tick_line_color = "black"
        ax.minor_tick_line_color = None
        ax.major_label_text_font = FONT
        ax.major_label_text_font_size = "15px"
        ax.major_label_text_color = "#111111"
    p.xaxis.major_label_standoff = 3
    p.yaxis.major_label_standoff = 8
    return p


# ---------------- panel 1 ----------------
p1 = make_fig("DIQ - 2025-02-15", 366, (0.15, 6.18), [1, 2, 3, 4, 5, 6],
              [round(0.2 * i, 1) for i in range(1, 31)], 40, 26)
p1.ygrid.grid_line_color = "#d2d2d2"
p1.ygrid.minor_grid_line_color = "#e8e8e8"
p1.add_layout(Grid(dimension=1, ticker=FixedTicker(ticks=[2, 4, 6]),
                   grid_line_color="#8a8a8a", grid_line_width=1))

x, y = split(gc1)
r_gc1 = p1.scatter(x, y, marker="x", size=10, line_color="#dcb070", line_alpha=0.85, line_width=2.2)
x, y = split(gc2)
r_gc2 = p1.scatter(x, y, marker="cross", size=12, line_color="#3a8585", line_alpha=0.5, line_width=2)
x, y = split(wfs1)
r_w1l = p1.line(x, y, line_color="#a8a8a8", line_width=0.8)
r_w1 = p1.scatter(x, y, marker="diamond", size=11, fill_color="#ffc414", line_color="#ff3300", line_width=1.1)
x, y = split(wfs2)
r_w2l = p1.line(x, y, line_color="#a8a8a8", line_width=0.8)
r_w2 = p1.scatter(x, y, marker="inverted_triangle", size=9, fill_color="#555566", line_color="#444455")
x, y = split(dimm)
r_dl = p1.line(x, y, line_color="#0a14dc", line_width=2)
r_d = p1.scatter(x, y, marker="circle", size=8, fill_color="#f2f03c", line_color="#0a14dc", line_width=1.6)

leg_common = dict(label_text_font=FONT, label_text_font_size="13px", label_text_color="#111111",
                  glyph_width=22, glyph_height=22, label_standoff=8, spacing=3, padding=10, margin=0)
legend_a = Legend(items=[LegendItem(label="gc1", renderers=[r_gc1]),
                         LegendItem(label="wfs1", renderers=[r_w1l, r_w1]),
                         LegendItem(label="dimm", renderers=[r_dl, r_d])],
                  location=(21, 204), label_width=126,
                  border_line_color="#555555", border_line_width=1.5,
                  background_fill_color="white", background_fill_alpha=1, **leg_common)
legend_b = Legend(items=[LegendItem(label="gc2", renderers=[r_gc2]),
                         LegendItem(label="wfs2", renderers=[r_w2l, r_w2])],
                  location=(122, 239), label_width=30,
                  border_line_color=None, background_fill_alpha=0, **leg_common)
p1.add_layout(legend_a, "center")
p1.add_layout(legend_b, "center")

# ---------------- panel 2 ----------------
p2 = make_fig("Guider \u2014 WFS", 163, (-1.27, 2.5), [-1, 0, 1, 2],
              [round(-1.2 + 0.1 * i, 1) for i in range(38)], 29, 26)
p2.ygrid.grid_line_color = "#9a9a9a"
p2.ygrid.minor_grid_line_color = "#eeeeee"
p2.add_layout(Grid(dimension=1, ticker=FixedTicker(ticks=[-0.5, 0.5, 1.5, 2.5]),
                   grid_line_color="#bdbdbd"))
x, y = split(guider)
p2.line(x, y, line_color="#bbbbbb", line_width=1)
x2, y2 = split(wfs)
p2.line(x2, y2, line_color="#bbbbbb", line_width=1)
p2.scatter(x, y, marker="circle", size=12, fill_color="#7d0f86", line_color="#c9b4da", line_width=1.5)
p2.scatter(x2, y2, marker="x", size=10, line_color="#ff1010", line_width=2.6)

# ---------------- panel 3 ----------------
p3 = make_fig("BLIQ+HO+LO \u2014 BLIQ+HO", 168, (-0.2, 1.97), [0, 0.5, 1.0, 1.5],
              [round(-0.2 + 0.05 * i, 2) for i in range(44)], 32, 26)
p3.yaxis.major_label_overrides = {0: "0", 0.5: "0.5", 1.0: "1.0", 1.5: "1.5"}
p3.ygrid.grid_line_color = "#9a9a9a"
p3.ygrid.minor_grid_line_color = "#ebebeb"
bx = [t / 60.0 for t in band_x]
p3.varea(x=bx, y1=band_lo, y2=band_hi, fill_color="#fbe3e3", fill_alpha=0.7)
p3.line(bx, band_hi, line_color="#c0392b", line_dash="4 3", line_width=1.2)
p3.line(bx, band_lo, line_color="#c0392b", line_dash="4 3", line_width=1.2)
x, y = split(bliq)
p3.scatter(x, y, marker="circle", size=10, fill_color="#0d0d72", line_color="#b5bcdc", line_width=1.5)

layout = column(p1, p2, p3, spacing=0)
open("out.html", "w").write(file_html(layout, INLINE))
